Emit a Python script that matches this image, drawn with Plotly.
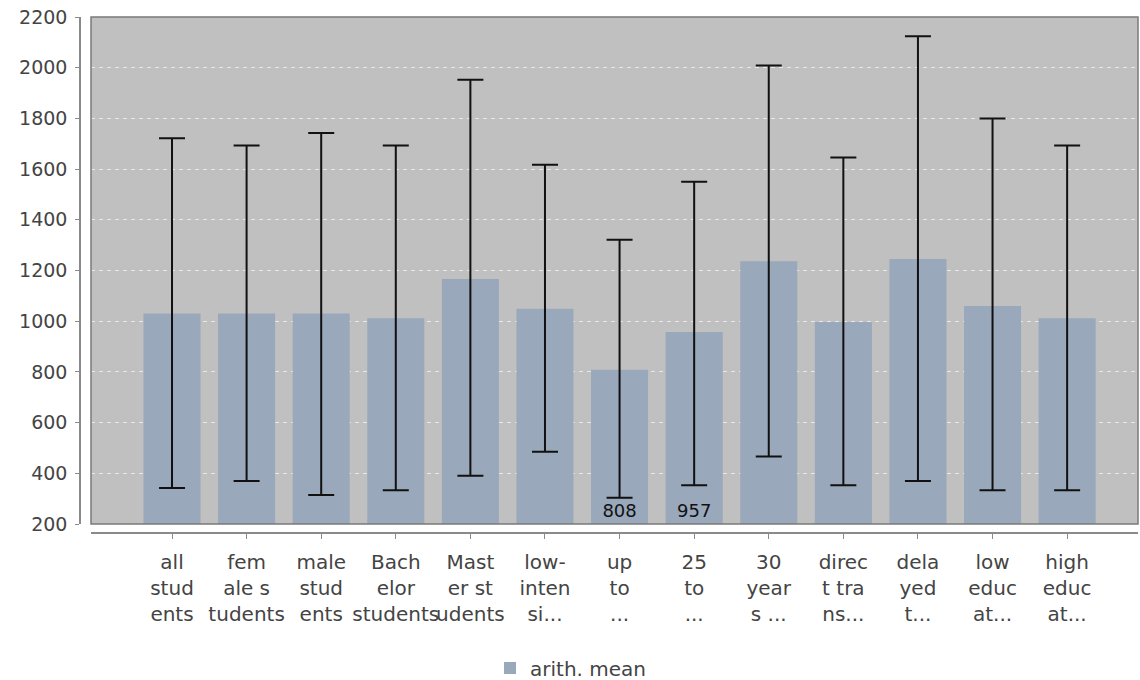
import plotly.graph_objects as go

categories = [
    "all<br>stud<br>ents", "fem<br>ale s<br>tudents", "male<br>stud<br>ents",
    "Bach<br>elor<br>students", "Mast<br>er st<br>udents", "low-<br>inten<br>si...",
    "up<br>to<br>...", "25<br>to<br>...", "30<br>year<br>s ...",
    "direc<br>t tra<br>ns...", "dela<br>yed<br>t...", "low<br>educ<br>at...",
    "high<br>educ<br>at...",
]
means = [1030, 1030, 1030, 1012, 1166, 1049, 808, 957, 1236, 997, 1245, 1060, 1012]
upper = [1722, 1693, 1742, 1693, 1952, 1617, 1321, 1550, 2009, 1646, 2124, 1800, 1693]
lower = [342, 370, 314, 333, 390, 485, 304, 353, 466, 353, 370, 333, 333]
value_labels = ["", "", "", "", "", "", "808", "957", "", "", "", "", ""]
y_ticks = [200, 400, 600, 800, 1000, 1200, 1400, 1600, 1800, 2000, 2200]
axis_min, axis_max = 200, 2200

FONT = "DejaVu Sans"
TXT = "#444444"
W, H = 1140, 680
# page-pixel layout targets
y_axis_x, plot_left, plot_right = 80, 91, 1138
plot_top, plot_bottom, x_axis_y = 17, 524, 533
ml = y_axis_x
mt = plot_top
mr = W - plot_right
mb = H - x_axis_y
pw, ph = W - ml - mr, H - mt - mb
x_dom0 = (plot_left - y_axis_x) / pw
y_dom0 = (x_axis_y - plot_bottom) / ph

fig = go.Figure()
fig.add_trace(go.Bar(
    x=categories,
    y=[m - axis_min for m in means],
    base=axis_min,
    name="arith. mean",
    marker=dict(color="#9aa8bb", line=dict(width=0)),
    width=0.765,
    text=value_labels,
    textposition="inside",
    insidetextanchor="start",
    constraintext="none",
    textangle=0,
    insidetextfont=dict(family=FONT, size=18, color="#111111"),
    hoverinfo="skip",
    error_y=dict(
        type="data", symmetric=False,
        array=[u - m for u, m in zip(upper, means)],
        arrayminus=[m - l for m, l in zip(means, lower)],
        color="#111111", thickness=2, width=13,
    ),
))

fig.update_layout(
    width=W, height=H,
    margin=dict(l=ml, r=mr, t=mt, b=mb, autoexpand=False),
    paper_bgcolor="white",
    plot_bgcolor="#c0c0c0",
    font=dict(family=FONT, size=18, color=TXT),
    showlegend=True,
    legend=dict(
        orientation="h", x=(490 - y_axis_x) / pw, xanchor="left",
        y=-(668 - x_axis_y) / ph, yanchor="middle",
        font=dict(family=FONT, size=20, color=TXT),
    ),
    xaxis=dict(
        domain=[x_dom0, 1], anchor="free", position=0, automargin=False,
        type="category", range=[-1.086, 12.95], tickangle=0,
        showline=True, linecolor="#8a8a8a", linewidth=1.5,
        ticks="outside", ticklen=5, tickcolor="#8a8a8a", tickwidth=1,
        ticklabelstandoff=6,
        showgrid=False, tickfont=dict(family=FONT, size=20, color=TXT),
    ),
    yaxis=dict(
        domain=[y_dom0, 1], anchor="free", position=0, automargin=False,
        range=[axis_min, axis_max], tickvals=y_ticks,
        ticklabeloverflow="allow", ticklabelstandoff=4,
        showline=True, linecolor="#8a8a8a", linewidth=1.5,
        ticks="outside", ticklen=4, tickcolor="#8a8a8a", tickwidth=1,
        showgrid=True, gridcolor="#e8e8e8", griddash="4px,4px", gridwidth=1,
        zeroline=False, tickfont=dict(family=FONT, size=19, color=TXT),
    ),
    shapes=[dict(
        type="rect", xref="paper", yref="paper",
        x0=x_dom0, x1=1, y0=y_dom0, y1=1,
        line=dict(color="#7a7a7a", width=1.5), fillcolor="rgba(0,0,0,0)", layer="above",
    )],
)

fig.write_html(
    "out.html",
    config={"displayModeBar": False},
    post_script="document.body.style.margin='0';",
)
